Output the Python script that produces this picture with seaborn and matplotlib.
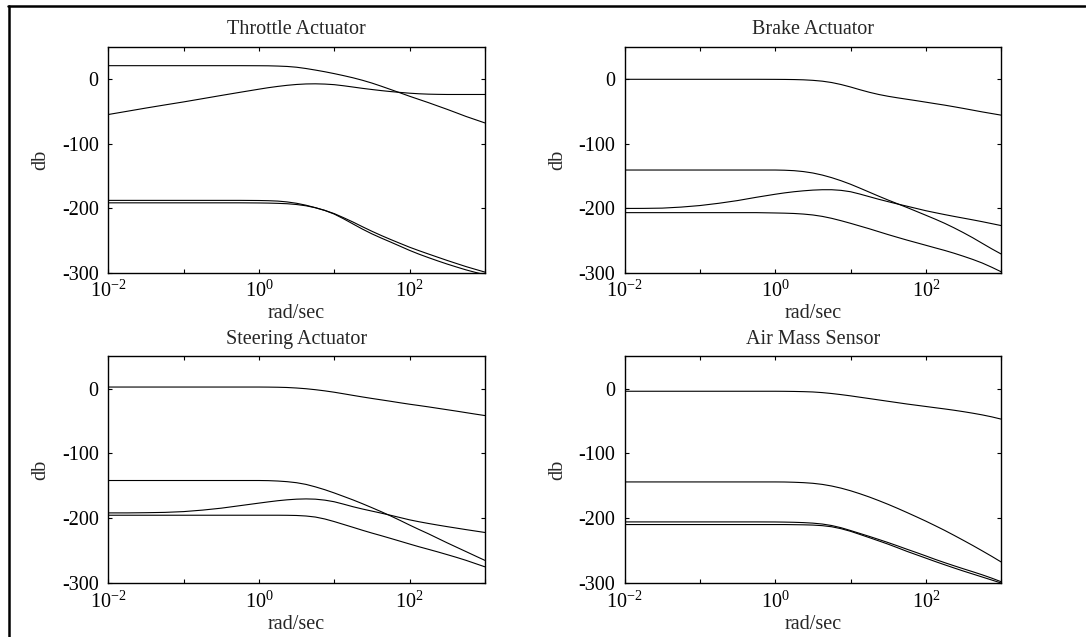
import matplotlib
matplotlib.use("Agg")
import matplotlib.pyplot as plt
from matplotlib.lines import Line2D
from matplotlib.ticker import NullLocator
import seaborn as sns
import pandas as pd

# ---------------- data ----------------
FREQ = [0.01, 0.0178, 0.0316, 0.0562, 0.1, 0.178, 0.316, 0.562,
        1.0, 1.33, 1.78, 2.37, 3.16, 4.22, 5.62, 7.5,
        10.0, 13.3, 17.8, 23.7, 31.6, 42.2, 56.2, 75.0,
        100.0, 133.0, 178.0, 237.0, 316.0, 422.0, 562.0, 750.0, 1000.0]

TITLES = ["Throttle Actuator", "Brake Actuator", "Steering Actuator", "Air Mass Sensor"]

throttle_a = [20.6, 20.6, 20.6, 20.6, 20.6, 20.6, 20.6, 20.6,
              20.5, 20.4, 20.0, 19.4, 18.2, 16.2, 13.8, 11.2,
              8.3, 5.2, 1.8, -2.0, -6.3, -11.2, -16.3, -21.5,
              -26.7, -31.6, -36.6, -41.8, -47.0, -52.5, -58.0, -63.0, -68.0]
throttle_b = [-55.0, -50.0, -45.0, -40.2, -35.5, -30.5, -25.5, -20.6,
              -15.8, -13.5, -11.5, -9.8, -8.5, -7.7, -7.5, -7.9,
              -8.8, -10.5, -12.5, -14.5, -16.3, -18.0, -19.5, -20.8,
              -22.0, -22.9, -23.5, -23.8, -24.0, -24.0, -24.0, -24.0, -24.0]
throttle_c = [-188.0, -188.0, -188.0, -188.0, -188.0, -188.0, -188.0, -188.0,
              -188.2, -188.5, -189.1, -190.4, -192.5, -195.5, -199.3, -203.5,
              -208.5, -214.8, -221.6, -228.8, -235.8, -242.4, -248.6, -254.6,
              -260.5, -265.8, -271.0, -276.0, -281.0, -285.8, -290.5, -294.8, -299.0]
throttle_d = [-191.8, -191.8, -191.8, -191.8, -191.8, -191.8, -191.8, -191.8,
              -192.0, -192.2, -192.6, -193.2, -194.4, -196.4, -199.4, -203.6,
              -209.2, -216.5, -224.6, -232.5, -239.8, -246.4, -252.6, -259.0,
              -265.4, -271.2, -276.6, -281.7, -286.6, -291.2, -295.6, -299.5, -303.0]

brake_a = [-0.5, -0.5, -0.5, -0.5, -0.5, -0.5, -0.5, -0.5,
           -0.6, -0.7, -0.9, -1.3, -2.1, -3.4, -5.5, -8.6,
           -12.4, -16.6, -20.6, -24.0, -26.8, -29.2, -31.4, -33.6,
           -35.9, -38.2, -40.5, -43.0, -45.6, -48.3, -51.0, -53.5, -56.0]
brake_b = [-141.0, -141.0, -141.0, -141.0, -141.0, -141.0, -141.0, -141.0,
           -141.0, -141.3, -142.0, -143.4, -145.6, -148.8, -152.8, -157.6,
           -163.0, -169.0, -175.3, -181.5, -187.5, -193.3, -199.0, -205.0,
           -211.0, -217.0, -223.5, -230.5, -238.0, -246.0, -254.5, -263.0, -271.0]
brake_c = [-200.5, -200.4, -200.0, -198.4, -196.0, -192.5, -188.3, -183.2,
           -178.5, -176.4, -174.6, -173.2, -172.1, -171.5, -171.5, -172.5,
           -174.6, -178.2, -182.3, -186.3, -190.0, -193.6, -197.0, -200.5,
           -204.0, -207.0, -210.0, -212.8, -215.5, -218.2, -221.0, -224.0, -227.0]
brake_d = [-207.0, -207.0, -207.0, -207.0, -207.0, -207.0, -207.0, -207.0,
           -207.5, -207.8, -208.3, -209.2, -210.6, -212.8, -215.8, -219.5,
           -223.5, -227.7, -232.0, -236.5, -241.0, -245.3, -249.5, -253.5,
           -257.5, -261.5, -265.5, -269.8, -274.5, -279.5, -285.0, -291.5, -298.5]

steering_a = [2.5, 2.5, 2.5, 2.5, 2.5, 2.5, 2.5, 2.5,
              2.5, 2.4, 2.2, 1.8, 1.0, -0.1, -1.6, -3.4,
              -5.5, -7.9, -10.4, -12.8, -15.1, -17.3, -19.5, -21.8,
              -24.0, -26.0, -28.1, -30.3, -32.5, -34.7, -37.0, -39.3, -41.5]
steering_b = [-141.8, -141.8, -141.8, -141.8, -141.8, -141.8, -141.8, -141.8,
              -141.8, -142.0, -142.6, -143.6, -145.2, -147.8, -151.6, -156.0,
              -161.0, -166.3, -171.8, -177.6, -183.7, -190.0, -196.5, -203.4,
              -210.5, -217.3, -224.0, -231.0, -238.0, -244.8, -251.5, -258.3, -265.0]
steering_c = [-191.8, -191.8, -191.5, -191.0, -189.8, -187.5, -184.5, -180.6,
              -176.7, -174.8, -173.0, -171.6, -170.6, -170.2, -170.6, -172.1,
              -174.6, -178.3, -182.3, -185.8, -189.0, -192.2, -195.5, -199.0,
              -202.5, -205.4, -208.1, -210.6, -213.0, -215.3, -217.6, -219.8, -222.0]
steering_d = [-195.4, -195.4, -195.4, -195.4, -195.4, -195.4, -195.4, -195.4,
              -195.4, -195.4, -195.4, -195.5, -195.8, -196.6, -198.2, -201.2,
              -205.2, -209.6, -214.1, -218.6, -222.9, -227.0, -231.2, -235.5,
              -239.8, -244.0, -248.0, -252.0, -256.2, -260.5, -265.0, -270.0, -275.0]

airmass_a = [-4.0, -4.0, -4.0, -4.0, -4.0, -4.0, -4.0, -4.0,
             -4.0, -4.1, -4.3, -4.6, -5.1, -6.1, -7.5, -9.2,
             -11.1, -13.2, -15.3, -17.4, -19.5, -21.6, -23.7, -25.6,
             -27.5, -29.4, -31.3, -33.3, -35.5, -37.9, -40.5, -43.5, -47.0]
airmass_b = [-144.0, -144.0, -144.0, -144.0, -144.0, -144.0, -144.0, -144.0,
             -144.0, -144.1, -144.5, -145.1, -146.1, -147.8, -150.3, -153.6,
             -157.6, -162.2, -167.3, -172.8, -178.6, -184.8, -191.2, -197.8,
             -204.5, -211.5, -218.8, -226.4, -234.2, -242.2, -250.4, -258.8, -267.5]
airmass_c = [-205.7, -205.7, -205.7, -205.7, -205.7, -205.7, -205.7, -205.7,
             -205.8, -206.0, -206.3, -206.8, -207.6, -209.0, -211.3, -214.7,
             -219.0, -223.5, -228.1, -232.8, -237.6, -242.7, -247.9, -253.0,
             -258.2, -263.5, -268.6, -273.4, -278.1, -282.7, -287.4, -292.5, -298.0]
airmass_d = [-209.8, -209.8, -209.8, -209.8, -209.8, -209.8, -209.8, -209.8,
             -209.8, -209.8, -210.0, -210.2, -210.6, -211.5, -213.2, -216.2,
             -220.2, -225.0, -230.0, -235.0, -240.1, -245.6, -251.2, -256.4,
             -261.6, -266.8, -271.9, -276.8, -281.6, -286.2, -290.8, -295.4, -300.0]

PANELS = [
    [throttle_a, throttle_b, throttle_c, throttle_d],
    [brake_a, brake_b, brake_c, brake_d],
    [steering_a, steering_b, steering_c, steering_d],
    [airmass_a, airmass_b, airmass_c, airmass_d],
]

X_TICKS = [1e-2, 1e-1, 1e0, 1e1, 1e2, 1e3]
X_TICK_LABELS = [r"$\mathdefault{10^{-2}}$", "", r"$\mathdefault{10^{0}}$", "",
                 r"$\mathdefault{10^{2}}$", ""]
Y_TICKS = [-300, -200, -100, 0]

# ---------------- style ----------------
sns.set_style("ticks")
plt.rcParams["font.family"] = ["Liberation Serif", "DejaVu Serif"]
plt.rcParams["mathtext.fontset"] = "custom"
plt.rcParams["mathtext.rm"] = "Liberation Serif"
plt.rcParams["axes.unicode_minus"] = False
plt.rcParams["axes.linewidth"] = 1.0
plt.rcParams["axes.edgecolor"] = "black"

FS = 14.5

fig = plt.figure(figsize=(10.86, 6.37), dpi=100)
fig.patch.set_facecolor("white")

positions = [
    [0.0998, 0.5719, 0.3466, 0.3548],
    [0.5752, 0.5719, 0.3466, 0.3548],
    [0.0998, 0.0848, 0.3466, 0.3559],
    [0.5752, 0.0848, 0.3466, 0.3559],
]

for title, curves, pos in zip(TITLES, PANELS, positions):
    ax = fig.add_axes(pos)
    rows = []
    for ci, vals in enumerate(curves):
        for f, v in zip(FREQ, vals):
            rows.append({"freq": f, "db": v, "curve": ci})
    df = pd.DataFrame(rows)
    sns.lineplot(data=df, x="freq", y="db", units="curve", estimator=None,
                 color="black", linewidth=0.8, ax=ax, legend=False, sort=True)
    ax.set_xscale("log")
    ax.set_xlim(1e-2, 1e3)
    ax.set_ylim(-300, 50)
    ax.set_xticks(X_TICKS)
    ax.set_xticklabels(X_TICK_LABELS)
    ax.xaxis.set_minor_locator(NullLocator())
    ax.set_yticks(Y_TICKS)
    ax.set_yticklabels([str(t) for t in Y_TICKS])
    ax.tick_params(axis="both", which="major", direction="in", top=True,
                   right=True, length=3.2, width=0.8, labelsize=FS, colors="black")
    ax.tick_params(axis="y", pad=7)
    ax.tick_params(axis="x", pad=6)
    for sp in ax.spines.values():
        sp.set_visible(True)
        sp.set_linewidth(1.0)
        sp.set_color("black")
    ax.set_xlabel("rad/sec", fontsize=FS, labelpad=1.5)
    ax.set_ylabel("db", fontsize=FS, labelpad=8)
    ax.set_title(title, fontsize=FS, pad=9)
    ax.set_facecolor("white")

# frame lines around the figure (top and left only, as in the reference)
fig.add_artist(Line2D([0.0074, 0.999], [0.9906, 0.9906], color="black",
                      linewidth=1.8, transform=fig.transFigure))
fig.add_artist(Line2D([0.0083, 0.0083], [0.0, 0.9906], color="black",
                      linewidth=1.8, transform=fig.transFigure))

fig.savefig("out.png", dpi=100, facecolor="white")
